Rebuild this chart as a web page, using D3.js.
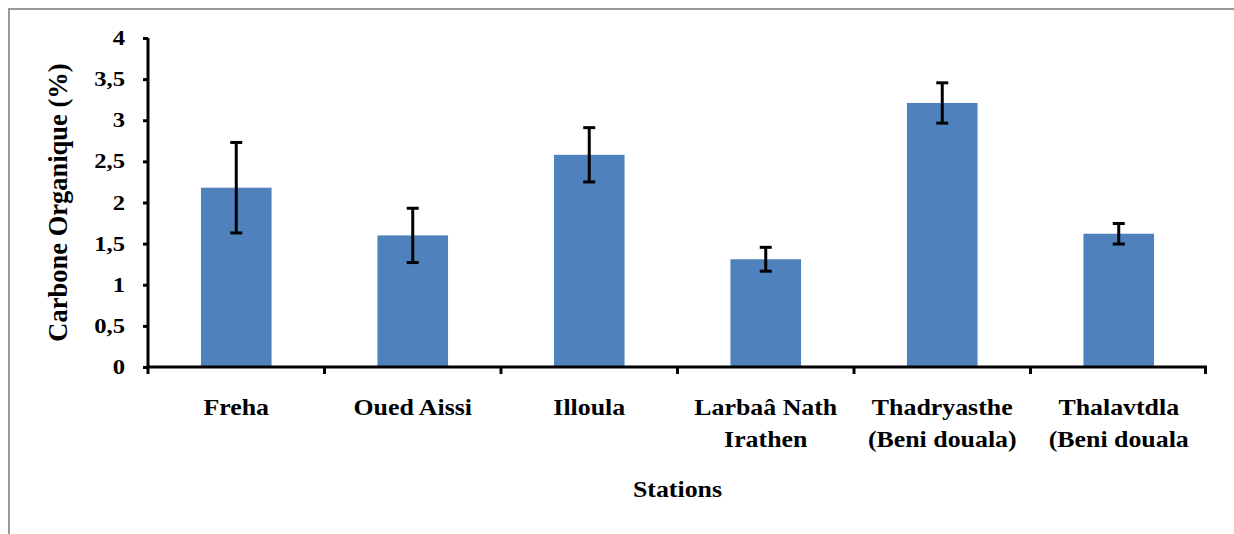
<!DOCTYPE html>
<html>
<head>
<meta charset="utf-8">
<script src="https://cdn.jsdelivr.net/npm/d3@7"></script>
<style>
  body { margin: 0; background: #fff; }
</style>
</head>
<body>
<svg id="chart" width="1234" height="534"></svg>
<script>
// data
const stations = [
  ["Freha"],
  ["Oued Aissi"],
  ["Illoula"],
  ["Larbaâ Nath", "Irathen"],
  ["Thadryasthe", "(Beni douala)"],
  ["Thalavtdla", "(Beni douala"]
];
const carbone = [2.18, 1.60, 2.58, 1.31, 3.21, 1.62];
const ecartType = [0.55, 0.33, 0.33, 0.145, 0.245, 0.125];
const yTicks = [0, 0.5, 1, 1.5, 2, 2.5, 3, 3.5, 4];

const FONT = "'Liberation Serif', 'Times New Roman', 'DejaVu Serif', serif";
const FS = "22.5px";
const SX = 1.15; // the original text is a bit stretched sideways

const svg = d3.select("#chart");
const margin = { top: 38, left: 148, right: 27, bottom: 167 };
const width = 1234 - margin.left - margin.right;
const height = 534 - margin.top - margin.bottom;

function styleText(sel) {
  sel.attr("font-family", null)
    .attr("font-size", null)
    .style("font-family", FONT)
    .style("font-weight", "bold")
    .style("font-size", FS)
    .attr("fill", "#000");
}

// outer frame (only top and left edges visible)
svg.append("path")
  .attr("d", "M9,534 V9 H1234")
  .attr("fill", "none")
  .attr("stroke", "#999")
  .attr("stroke-width", 2);

const g = svg.append("g").attr("transform", `translate(${margin.left},${margin.top})`);

const x = d3.scaleBand()
  .domain(d3.range(stations.length))
  .range([0, width])
  .paddingInner(0.6)
  .paddingOuter(0.3);

const y = d3.scaleLinear().domain([0, 4]).range([height, 0]);

// bars
g.selectAll("rect.bar")
  .data(carbone)
  .join("rect")
  .attr("class", "bar")
  .attr("x", (d, i) => x(i))
  .attr("y", d => y(d))
  .attr("width", x.bandwidth())
  .attr("height", d => y(0) - y(d))
  .attr("fill", "#4F81BD");

// error bars
const err = g.selectAll("g.err")
  .data(carbone)
  .join("g")
  .attr("class", "err")
  .attr("transform", (d, i) => `translate(${x(i) + x.bandwidth() / 2},0)`);

err.append("line")
  .attr("y1", (d, i) => y(d + ecartType[i]))
  .attr("y2", (d, i) => y(d - ecartType[i]))
  .attr("stroke", "#000").attr("stroke-width", 3);

err.append("line")
  .attr("x1", -6).attr("x2", 6)
  .attr("y1", (d, i) => y(d + ecartType[i]))
  .attr("y2", (d, i) => y(d + ecartType[i]))
  .attr("stroke", "#000").attr("stroke-width", 3);

err.append("line")
  .attr("x1", -6).attr("x2", 6)
  .attr("y1", (d, i) => y(d - ecartType[i]))
  .attr("y2", (d, i) => y(d - ecartType[i]))
  .attr("stroke", "#000").attr("stroke-width", 3);

// y axis
const yAxis = g.append("g")
  .call(d3.axisLeft(y)
    .tickValues(yTicks)
    .tickSize(5)
    .tickPadding(18)
    .tickFormat(d => String(d).replace(".", ",")));
yAxis.select(".domain").attr("stroke-width", 3).attr("d", `M0,0V${height}`);
yAxis.selectAll(".tick line").attr("stroke-width", 3);
yAxis.selectAll("text")
  .call(styleText)
  .style("font-size", "20.5px")
  .attr("x", -23 / 1.2)
  .attr("transform", "scale(1.2,1)");

// x axis: ticks at category boundaries
const xAxis = g.append("g").attr("transform", `translate(0,${height})`);
xAxis.append("line")
  .attr("x1", -1.5).attr("x2", width)
  .attr("stroke", "#000").attr("stroke-width", 3);
const step = x.step();
xAxis.selectAll("line.tk")
  .data(d3.range(stations.length + 1))
  .join("line")
  .attr("class", "tk")
  .attr("x1", i => i === stations.length ? width - 1.5 : i * step)
  .attr("x2", i => i === stations.length ? width - 1.5 : i * step)
  .attr("y1", 0).attr("y2", 7)
  .attr("stroke", "#000").attr("stroke-width", 3);

xAxis.selectAll("text.cat")
  .data(stations)
  .join("text")
  .attr("class", "cat")
  .attr("text-anchor", "middle")
  .call(styleText)
  .attr("transform", (d, i) => `translate(${x(i) + x.bandwidth() / 2},48) scale(${SX},1)`)
  .selectAll("tspan")
  .data(d => d)
  .join("tspan")
  .attr("x", 0)
  .attr("y", (d, j) => j * 32)
  .text(d => d);

// axis titles
svg.append("text")
  .attr("transform", `translate(${margin.left + width / 2},497) scale(${SX},1)`)
  .attr("text-anchor", "middle")
  .call(styleText)
  .text("Stations");

svg.append("text")
  .attr("transform", `translate(67,${margin.top + height / 2}) rotate(-90)`)
  .attr("text-anchor", "middle")
  .call(styleText)
  .style("font-size", "26.5px")
  .text("Carbone Organique (%)");
</script>
</body>
</html>
